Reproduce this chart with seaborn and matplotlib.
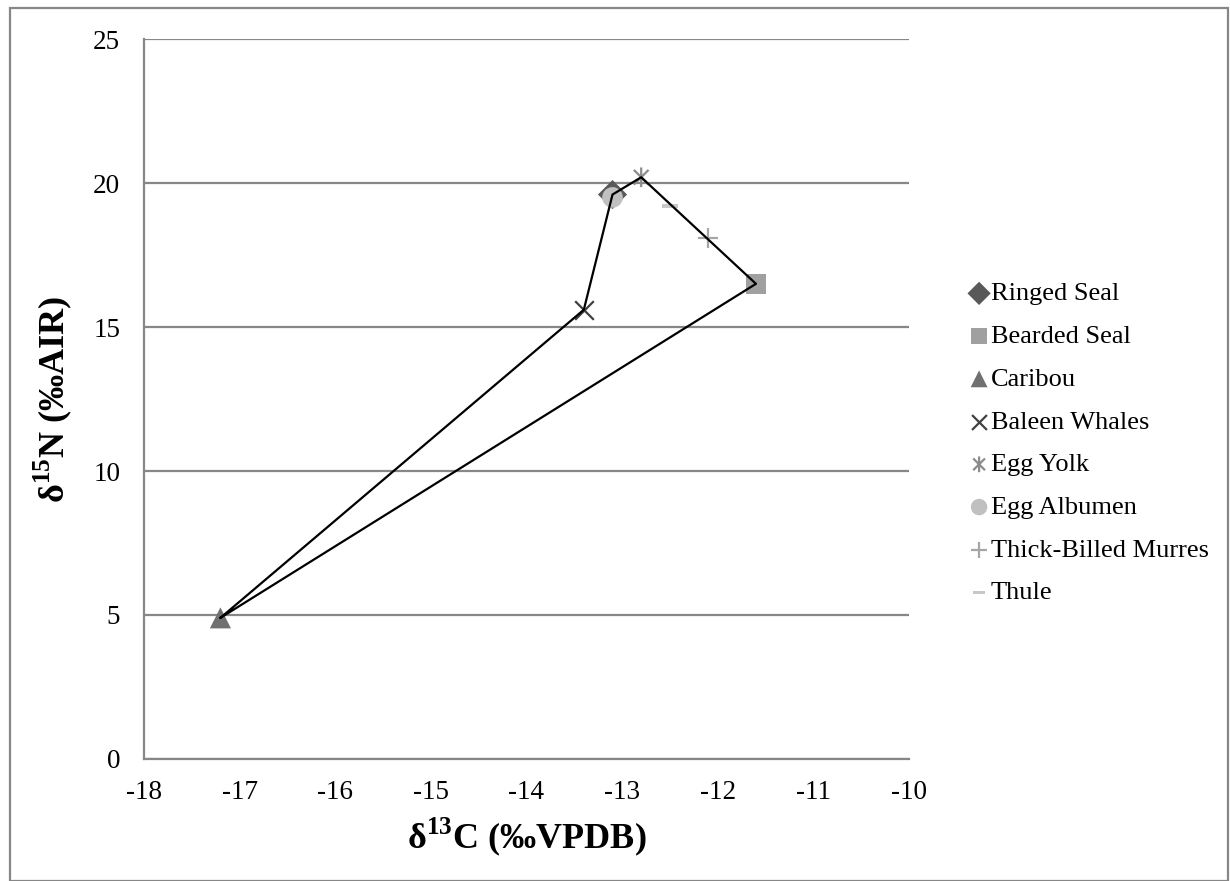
import matplotlib
matplotlib.use("Agg")
import matplotlib.pyplot as plt
import seaborn as sns
import pandas as pd
from matplotlib.patches import Rectangle
from matplotlib.path import Path

species = ["Ringed Seal", "Bearded Seal", "Caribou", "Baleen Whales",
           "Egg Yolk", "Egg Albumen", "Thick-Billed Murres", "Thule"]
d13C = [-13.1, -11.6, -17.2, -13.4, -12.8, -13.1, -12.1, -12.5]
d15N = [19.6, 16.5, 4.9, 15.6, 20.2, 19.5, 18.1, 19.2]

# convex hull order (by species name)
hull_order = ["Caribou", "Baleen Whales", "Ringed Seal", "Egg Yolk", "Bearded Seal", "Caribou"]

xticks = [-18, -17, -16, -15, -14, -13, -12, -11, -10]
yticks = [0, 5, 10, 15, 20, 25]

df = pd.DataFrame({"species": species, "x": d13C, "y": d15N})

sns.set_style("white")
plt.rcParams["font.family"] = ["Liberation Serif", "DejaVu Serif"]
plt.rcParams["mathtext.fontset"] = "custom"
plt.rcParams["mathtext.rm"] = "Liberation Serif"
plt.rcParams["mathtext.bf"] = "Liberation Serif:bold"
plt.rcParams["text.color"] = "black"
plt.rcParams["axes.labelcolor"] = "black"
plt.rcParams["xtick.color"] = "black"
plt.rcParams["ytick.color"] = "black"

thule_marker = [(-1, -0.3), (1, -0.3), (1, 0.3), (-1, 0.3), (-1, -0.3)]
asterisk = Path([(-0.75, -0.75), (0.75, 0.75), (-0.75, 0.75), (0.75, -0.75), (0, -1), (0, 1)],
                [Path.MOVETO, Path.LINETO, Path.MOVETO, Path.LINETO, Path.MOVETO, Path.LINETO])
styles = {
    "Ringed Seal": dict(marker="D", color="#595959", s=220),
    "Bearded Seal": dict(marker="s", color="#a0a0a0", s=220),
    "Caribou": dict(marker="^", color="#707070", s=230),
    "Baleen Whales": dict(marker="x", color="#404040", s=180, linewidth=1.6),
    "Egg Yolk": dict(marker=asterisk, color="#8c8c8c", s=200, linewidth=1.6),
    "Egg Albumen": dict(marker="o", color="#c0c0c0", s=220),
    "Thick-Billed Murres": dict(marker="+", color="#a6a6a6", s=200, linewidth=1.6),
    "Thule": dict(marker=thule_marker, color="#c8c8c8", s=130),
}

fig = plt.figure(figsize=(12.3, 8.81), dpi=100)
ax = fig.add_axes([0.117, 0.1385, 0.622, 0.8172])

for sp in species:
    sub = df[df["species"] == sp]
    st = dict(styles[sp])
    lw = st.pop("linewidth", 0)
    extra = {}
    if sp == "Egg Yolk":
        extra["facecolor"] = "none"
    sns.scatterplot(data=sub, x="x", y="y", ax=ax, label=sp, zorder=3,
                    linewidth=lw, edgecolor=st["color"] if lw else "none", **st, **extra)

hull = df.set_index("species").loc[hull_order].reset_index()
sns.lineplot(data=hull, x="x", y="y", sort=False, estimator=None, ax=ax,
             color="black", linewidth=1.6, zorder=4)

ax.set_xlim(-18, -10)
ax.set_ylim(0, 25)
ax.set_xticks(xticks)
ax.set_yticks(yticks)
ax.set_xticklabels([str(t) for t in xticks], fontsize=19.5)
ax.set_yticklabels([str(t) for t in yticks], fontsize=19.5)
ax.tick_params(axis="both", length=0)
ax.tick_params(axis="y", pad=17)
ax.tick_params(axis="x", pad=15)
ax.grid(axis="y", color="#878787", linewidth=1.6)
ax.grid(axis="x", visible=False)
ax.set_axisbelow(True)
for side in ["top", "right"]:
    ax.spines[side].set_visible(False)
for side in ["left", "bottom"]:
    ax.spines[side].set_color("#878787")
    ax.spines[side].set_linewidth(1.6)

ax.set_xlabel(r"δ$^{\mathbf{13}}$C (‰VPDB)", fontsize=26, fontweight="bold", labelpad=8)
ax.set_ylabel(r"δ$^{\mathbf{15}}$N (‰AIR)", fontsize=26, fontweight="bold", labelpad=14)

leg = ax.legend(loc="center left", bbox_to_anchor=(0.781, 0.497),
                bbox_transform=fig.transFigure, frameon=False, fontsize=19,
                handlelength=0.6, handletextpad=0.15, labelspacing=0.73,
                borderaxespad=0, markerscale=0.8)

fig.patches.append(Rectangle((10 / 1230, 0), 1 - 12 / 1230, 1 - 8 / 881,
                             transform=fig.transFigure, fill=False,
                             edgecolor="#878787", linewidth=1.6))

fig.savefig("out.png", dpi=100)
